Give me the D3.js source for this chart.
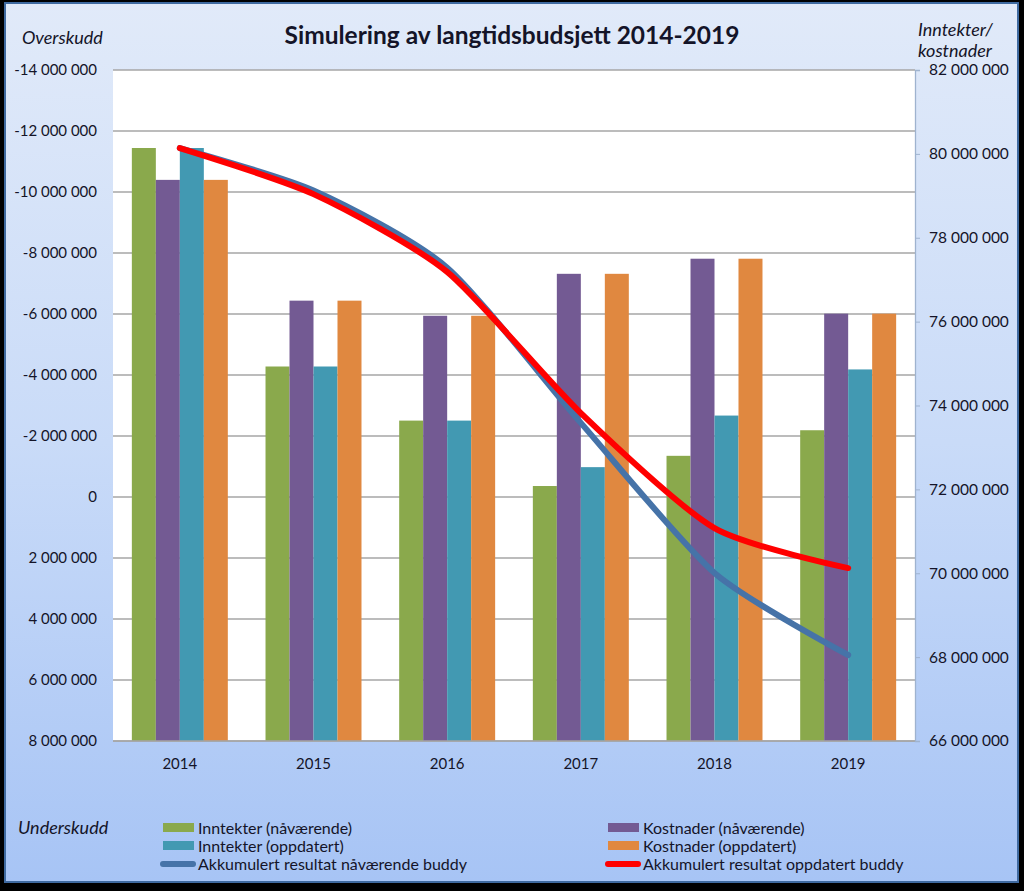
<!DOCTYPE html>
<html><head><meta charset="utf-8">
<script src="https://cdn.jsdelivr.net/npm/d3@7"></script>
<style>
body{margin:0;background:#000;}
svg{display:block;}
text{font-family:Lato,"Open Sans",sans-serif;fill:#141428;}
</style></head>
<body>
<script>
const years = ["2014","2015","2016","2017","2018","2019"];
const inntekterNaa = [80140000,74930000,73640000,72080000,72800000,73410000];
const kostnaderNaa = [79380000,76500000,76140000,77140000,77500000,76190000];
const inntekterOpp = [80140000,74930000,73640000,72530000,73760000,74860000];
const kostnaderOpp = [79380000,76500000,76140000,77140000,77500000,76190000];
const akkNaa = [-11440000,-10050000,-7520000,-2430000,2490000,5180000];
const akkOpp = [-11440000,-9930000,-7380000,-2750000,1020000,2330000];
const leftTicks = [-14000000,-12000000,-10000000,-8000000,-6000000,-4000000,-2000000,0,2000000,4000000,6000000,8000000];
const rightTicks = [66000000,68000000,70000000,72000000,74000000,76000000,78000000,80000000,82000000];

const barSeries = [
  {name:"Inntekter (nåværende)", values:inntekterNaa, color:"#8aa94c"},
  {name:"Kostnader (nåværende)", values:kostnaderNaa, color:"#735a93"},
  {name:"Inntekter (oppdatert)", values:inntekterOpp, color:"#4299b2"},
  {name:"Kostnader (oppdatert)", values:kostnaderOpp, color:"#e08840"}
];
const lineSeries = [
  {name:"Akkumulert resultat nåværende buddy", values:akkNaa, color:"#4673a8"},
  {name:"Akkumulert resultat oppdatert buddy", values:akkOpp, color:"#ff0000"}
];

const W=1024,H=891;
const m={l:113,t:70,r:915,b:741};
const loc = d3.formatLocale({decimal:",",thousands:" ",grouping:[3],currency:["",""],minus:"-"});
const fmt = loc.format(",d");

const svg = d3.select("body").append("svg").attr("width",W).attr("height",H);
const defs = svg.append("defs");
const g = defs.append("linearGradient").attr("id","bg").attr("x1",0).attr("y1",0).attr("x2",0).attr("y2",1);
g.append("stop").attr("offset","0%").attr("stop-color","#e1eaf9");
g.append("stop").attr("offset","50%").attr("stop-color","#c9dbf8");
g.append("stop").attr("offset","100%").attr("stop-color","#a7c4f5");

svg.append("rect").attr("width",W).attr("height",H).attr("fill","#000");
svg.append("rect").attr("x",5).attr("y",3).attr("width",1013).attr("height",879)
  .attr("fill","url(#bg)").attr("stroke","#3f6aa0").attr("stroke-width",2);

const x0 = d3.scaleBand().domain(years).range([m.l,m.r]).paddingInner(0.282).paddingOuter(0.141);
const x1 = d3.scaleBand().domain(d3.range(4)).range([0,x0.bandwidth()]);
const yL = d3.scaleLinear().domain([-14000000,8000000]).range([m.t,m.b]);
const yR = d3.scaleLinear().domain([66000000,82000000]).range([m.b,m.t]);

svg.append("rect").attr("x",m.l).attr("y",m.t).attr("width",m.r-m.l).attr("height",m.b-m.t).attr("fill","#fff");

// gridlines
svg.append("g").selectAll("line").data(leftTicks).join("line")
  .attr("x1",m.l).attr("x2",m.r).attr("y1",d=>yL(d)).attr("y2",d=>yL(d))
  .attr("stroke","#a6a6a6").attr("stroke-width",1.3);

// bars
barSeries.forEach((s,i)=>{
  svg.append("g").selectAll("rect").data(s.values).join("rect")
    .attr("x",(d,j)=>x0(years[j])+x1(i)).attr("width",x1.bandwidth())
    .attr("y",d=>yR(d)).attr("height",d=>m.b-yR(d)).attr("fill",s.color);
});

svg.append("line").attr("x1",m.l).attr("x2",m.r).attr("y1",m.b).attr("y2",m.b).attr("stroke","#a6a6a6").attr("stroke-width",1.3);

// lines
const cx = d=>x0(d)+x0.bandwidth()/2;
lineSeries.forEach(s=>{
  const line = d3.line().x((d,j)=>cx(years[j])).y(d=>yL(d)).curve(d3.curveCardinal.tension(0.3));
  svg.append("path").datum(s.values).attr("d",line).attr("fill","none")
    .attr("stroke",s.color).attr("stroke-width",6).attr("stroke-linecap","round").attr("stroke-linejoin","round");
});

// left axis labels
svg.append("g").selectAll("text").data(leftTicks).join("text")
  .attr("x",97).attr("y",d=>yL(d)).attr("dy","0.35em").attr("text-anchor","end")
  .style("font-size","15px").text(d=>fmt(d));

// right axis
const ra = svg.append("g").attr("transform",`translate(${m.r},0)`)
  .call(d3.axisRight(yR).tickValues(rightTicks).tickSize(5).tickPadding(9).tickFormat(d=>fmt(d)));
ra.select(".domain").attr("stroke","#9fb3cf").attr("stroke-width",1.3);
ra.selectAll(".tick line").attr("stroke","#9fb3cf");
ra.selectAll("text").style("font-size","15.5px").style("font-family","Lato,sans-serif").attr("fill","#141428");

// x labels
svg.append("g").selectAll("text").data(years).join("text")
  .attr("x",d=>cx(d)).attr("y",769).attr("text-anchor","middle").style("font-size","15px").text(d=>d);

// titles
svg.append("text").attr("x",512).attr("y",44).attr("text-anchor","middle")
  .style("font-size","24.5px").style("font-weight","bold").attr("fill","#000").text("Simulering av langtidsbudsjett 2014-2019");
svg.append("text").attr("x",22).attr("y",44).style("font-size","18px").style("font-style","italic").text("Overskudd");
svg.append("text").attr("x",918).attr("y",36).style("font-size","18px").style("font-style","italic").text("Inntekter/");
svg.append("text").attr("x",918).attr("y",57).style("font-size","18px").style("font-style","italic").text("kostnader");
svg.append("text").attr("x",18).attr("y",834).style("font-size","18px").style("font-style","italic").text("Underskudd");

// legend
const legendItems = [
  {s:barSeries[0], x:163, y:828, type:"bar"},
  {s:barSeries[1], x:608, y:828, type:"bar"},
  {s:barSeries[2], x:163, y:846, type:"bar"},
  {s:barSeries[3], x:608, y:846, type:"bar"},
  {s:lineSeries[0], x:163, y:864, type:"line"},
  {s:lineSeries[1], x:608, y:864, type:"line"}
];
legendItems.forEach(it=>{
  if(it.type==="bar"){
    svg.append("rect").attr("x",it.x).attr("y",it.y-5).attr("width",31).attr("height",9).attr("fill",it.s.color);
  } else {
    svg.append("line").attr("x1",it.x).attr("x2",it.x+30).attr("y1",it.y).attr("y2",it.y)
      .attr("stroke",it.s.color).attr("stroke-width",6).attr("stroke-linecap","round");
  }
  svg.append("text").attr("x",it.x+35).attr("y",it.y).attr("dy","0.35em").style("font-size","16px").text(it.s.name);
});
</script>
</body></html>
